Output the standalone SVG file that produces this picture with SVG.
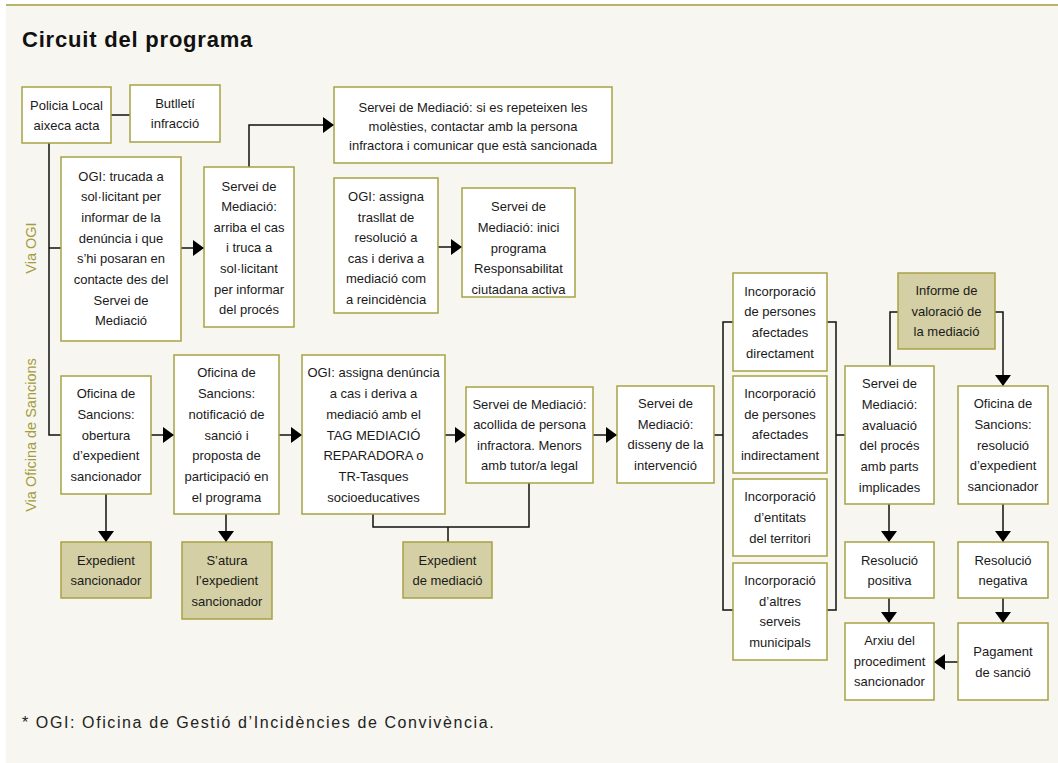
<svg xmlns="http://www.w3.org/2000/svg" width="1058" height="763" viewBox="0 0 1058 763">
<defs>
<style>
.bx{fill:#ffffff;stroke:#a9a243;stroke-width:1.5}
.dk{fill:#d4cfa5;stroke:#a9a243;stroke-width:1.5}
.t{font-family:"Liberation Sans",Arial,sans-serif;font-size:13px;fill:#1a1a1a;text-anchor:middle}
.c{fill:none;stroke:#111;stroke-width:1.5}
.lab{font-family:"Liberation Sans",Arial,sans-serif;font-size:14.5px;fill:#a39d3c;text-anchor:middle}
</style>
<marker id="ah" viewBox="0 0 11 16" refX="11" refY="8" markerWidth="11" markerHeight="16" markerUnits="userSpaceOnUse" orient="auto">
<path d="M0,0 L11,8 L0,16 z" fill="#000"/>
</marker>
</defs>
<rect x="0" y="0" width="1058" height="763" fill="#ffffff"/>
<rect x="6" y="5" width="1052" height="758" fill="#f7f6f0"/>
<line x1="6" y1="5" x2="1058" y2="5" stroke="#a39d3c" stroke-width="1.5"/>
<text x="22" y="47" font-family="Liberation Sans,Arial,sans-serif" font-size="22" font-weight="bold" letter-spacing="0.8" fill="#111">Circuit del programa</text>
<text class="lab" transform="translate(36,248) rotate(-90)">Via OGI</text>
<text class="lab" transform="translate(36,435) rotate(-90)">Via Oficina de Sancions</text>

<g id="connectors">
<path class="c" d="M111,115 H130"/>
<path class="c" d="M49,143 V435 H61 M49,248 H61"/>
<path class="c" d="M181,248 H204" marker-end="url(#ah)"/>
<path class="c" d="M249,167 V125 H334" marker-end="url(#ah)"/>
<path class="c" d="M438,247 H462" marker-end="url(#ah)"/>
<path class="c" d="M151,435 H174" marker-end="url(#ah)"/>
<path class="c" d="M106,494 V542" marker-end="url(#ah)"/>
<path class="c" d="M226,514 V542" marker-end="url(#ah)"/>
<path class="c" d="M279,435 H302" marker-end="url(#ah)"/>
<path class="c" d="M445,435 H466" marker-end="url(#ah)"/>
<path class="c" d="M373,514 V527 H529 V483 M448,527 V542"/>
<path class="c" d="M593,435 H617" marker-end="url(#ah)"/>
<path class="c" d="M714,435 H723 M733,322 H723 V610 H733 M827,322 H836 V610 H827 M836,435 H845"/>
<path class="c" d="M890,366 V312 H898"/>
<path class="c" d="M995,312 H1003 V386" marker-end="url(#ah)"/>
<path class="c" d="M889,504 V542" marker-end="url(#ah)"/>
<path class="c" d="M1003,504 V542" marker-end="url(#ah)"/>
<path class="c" d="M889,598 V623" marker-end="url(#ah)"/>
<path class="c" d="M1003,598 V623" marker-end="url(#ah)"/>
<path class="c" d="M958,662 H934" marker-end="url(#ah)"/>
</g>

<g id="n1"><rect class="bx" x="22" y="87" width="89" height="56"/>
<text class="t" x="66.5" y="109.5">Policia Local</text><text class="t" x="66.5" y="129.5">aixeca acta</text></g>

<g id="n2"><rect class="bx" x="130" y="85" width="90" height="57"/>
<text class="t" x="175" y="108">Butlletí</text><text class="t" x="175" y="128">infracció</text></g>

<g id="n3"><rect class="bx" x="61" y="157" width="120" height="184"/>
<text class="t" x="121" y="180.5">OGI: trucada a</text>
<text class="t" x="121" y="201.2">sol·licitant per</text>
<text class="t" x="121" y="221.9">informar de la</text>
<text class="t" x="121" y="242.6">denúncia i que</text>
<text class="t" x="121" y="263.3">s’hi posaran en</text>
<text class="t" x="121" y="284">contacte des del</text>
<text class="t" x="121" y="304.7">Servei de</text>
<text class="t" x="121" y="325.4">Mediació</text></g>

<g id="n4"><rect class="bx" x="204" y="167" width="90" height="160"/>
<text class="t" x="249" y="190.5">Servei de</text>
<text class="t" x="249" y="211.1">Mediació:</text>
<text class="t" x="249" y="231.7">arriba el cas</text>
<text class="t" x="249" y="252.3">i truca a</text>
<text class="t" x="249" y="272.9">sol·licitant</text>
<text class="t" x="249" y="293.5">per informar</text>
<text class="t" x="249" y="314.1">del procés</text></g>

<g id="n5"><rect class="bx" x="334" y="87" width="278" height="76"/>
<text class="t" x="473" y="111.5">Servei de Mediació: si es repeteixen les</text>
<text class="t" x="473" y="130.5">molèsties, contactar amb la persona</text>
<text class="t" x="473" y="149.5">infractora i comunicar que està sancionada</text></g>

<g id="n6"><rect class="bx" x="334" y="178" width="104" height="135"/>
<text class="t" x="386" y="201.3">OGI: assigna</text>
<text class="t" x="386" y="221.8">trasllat de</text>
<text class="t" x="386" y="242.3">resolució a</text>
<text class="t" x="386" y="262.8">cas i deriva a</text>
<text class="t" x="386" y="283.3">mediació com</text>
<text class="t" x="386" y="303.8">a reincidència</text></g>

<g id="n7"><rect class="bx" x="462" y="188" width="113" height="109"/>
<text class="t" x="518.5" y="211">Servei de</text>
<text class="t" x="518.5" y="231.8">Mediació: inici</text>
<text class="t" x="518.5" y="252.6">programa</text>
<text class="t" x="518.5" y="273.4">Responsabilitat</text>
<text class="t" x="518.5" y="294.2">ciutadana activa</text></g>

<g id="n8"><rect class="bx" x="61" y="376" width="90" height="118"/>
<text class="t" x="106" y="397.9">Oficina de</text>
<text class="t" x="106" y="418.7">Sancions:</text>
<text class="t" x="106" y="439.5">obertura</text>
<text class="t" x="106" y="460.3">d’expedient</text>
<text class="t" x="106" y="481.1">sancionador</text></g>

<g id="n9"><rect class="bx" x="174" y="355" width="105" height="159"/>
<text class="t" x="226.5" y="377.4">Oficina de</text>
<text class="t" x="226.5" y="398.1">Sancions:</text>
<text class="t" x="226.5" y="418.8">notificació de</text>
<text class="t" x="226.5" y="439.5">sanció i</text>
<text class="t" x="226.5" y="460.2">proposta de</text>
<text class="t" x="226.5" y="480.9">participació en</text>
<text class="t" x="226.5" y="501.6">el programa</text></g>

<g id="n10"><rect class="dk" x="61" y="542" width="90" height="56"/>
<text class="t" x="106" y="564.5">Expedient</text><text class="t" x="106" y="584.5">sancionador</text></g>

<g id="n11"><rect class="dk" x="182" y="542" width="90" height="77"/>
<text class="t" x="227" y="564.5">S’atura</text><text class="t" x="227" y="585">l’expedient</text><text class="t" x="227" y="605.5">sancionador</text></g>

<g id="n12"><rect class="bx" x="302" y="355" width="143" height="159"/>
<text class="t" x="373.5" y="377.4">OGI: assigna denúncia</text>
<text class="t" x="373.5" y="398.1">a cas i deriva a</text>
<text class="t" x="373.5" y="418.8">mediació amb el</text>
<text class="t" x="373.5" y="439.5">TAG MEDIACIÓ</text>
<text class="t" x="373.5" y="460.2">REPARADORA o</text>
<text class="t" x="373.5" y="480.9">TR-Tasques</text>
<text class="t" x="373.5" y="501.6">socioeducatives</text></g>

<g id="n13"><rect class="bx" x="466" y="387" width="127" height="96"/>
<text class="t" x="529.5" y="408.5">Servei de Mediació:</text>
<text class="t" x="529.5" y="429">acollida de persona</text>
<text class="t" x="529.5" y="449.5">infractora. Menors</text>
<text class="t" x="529.5" y="470">amb tutor/a legal</text></g>

<g id="n14"><rect class="dk" x="403" y="542" width="89" height="56"/>
<text class="t" x="447.5" y="564.5">Expedient</text><text class="t" x="447.5" y="584.5">de mediació</text></g>

<g id="n15"><rect class="bx" x="617" y="386" width="97" height="97"/>
<text class="t" x="665.5" y="408">Servei de</text>
<text class="t" x="665.5" y="428.7">Mediació:</text>
<text class="t" x="665.5" y="449.4">disseny de la</text>
<text class="t" x="665.5" y="470.1">intervenció</text></g>

<g id="n16"><rect class="bx" x="733" y="273" width="94" height="98"/>
<text class="t" x="780" y="295.5">Incorporació</text>
<text class="t" x="780" y="316.2">de persones</text>
<text class="t" x="780" y="336.9">afectades</text>
<text class="t" x="780" y="357.6">directament</text></g>

<g id="n17"><rect class="bx" x="733" y="376" width="94" height="97"/>
<text class="t" x="780" y="398">Incorporació</text>
<text class="t" x="780" y="418.7">de persones</text>
<text class="t" x="780" y="439.4">afectades</text>
<text class="t" x="780" y="460.1">indirectament</text></g>

<g id="n18"><rect class="bx" x="733" y="479" width="94" height="77"/>
<text class="t" x="780" y="501.4">Incorporació</text>
<text class="t" x="780" y="522.1">d’entitats</text>
<text class="t" x="780" y="542.8">del territori</text></g>

<g id="n19"><rect class="bx" x="733" y="563" width="94" height="97"/>
<text class="t" x="780" y="585">Incorporació</text>
<text class="t" x="780" y="605.7">d’altres</text>
<text class="t" x="780" y="626.4">serveis</text>
<text class="t" x="780" y="647.1">municipals</text></g>

<g id="n20"><rect class="bx" x="845" y="366" width="89" height="138"/>
<text class="t" x="889.5" y="388.2">Servei de</text>
<text class="t" x="889.5" y="408.9">Mediació:</text>
<text class="t" x="889.5" y="429.6">avaluació</text>
<text class="t" x="889.5" y="450.3">del procés</text>
<text class="t" x="889.5" y="471">amb parts</text>
<text class="t" x="889.5" y="491.7">implicades</text></g>

<g id="n21"><rect class="dk" x="898" y="273" width="97" height="76"/>
<text class="t" x="946.5" y="295">Informe de</text>
<text class="t" x="946.5" y="315.7">valoració de</text>
<text class="t" x="946.5" y="336.4">la mediació</text></g>

<g id="n22"><rect class="bx" x="958" y="386" width="90" height="118"/>
<text class="t" x="1003" y="407.9">Oficina de</text>
<text class="t" x="1003" y="428.7">Sancions:</text>
<text class="t" x="1003" y="449.5">resolució</text>
<text class="t" x="1003" y="470.3">d’expedient</text>
<text class="t" x="1003" y="491.1">sancionador</text></g>

<g id="n23"><rect class="bx" x="845" y="542" width="89" height="56"/>
<text class="t" x="889.5" y="564.5">Resolució</text><text class="t" x="889.5" y="584.5">positiva</text></g>

<g id="n24"><rect class="bx" x="958" y="542" width="90" height="56"/>
<text class="t" x="1003" y="564.5">Resolució</text><text class="t" x="1003" y="584.5">negativa</text></g>

<g id="n25"><rect class="bx" x="845" y="623" width="89" height="77"/>
<text class="t" x="889.5" y="645">Arxiu del</text>
<text class="t" x="889.5" y="665.7">procediment</text>
<text class="t" x="889.5" y="686.4">sancionador</text></g>

<g id="n26"><rect class="bx" x="958" y="623" width="90" height="77"/>
<text class="t" x="1003" y="656">Pagament</text>
<text class="t" x="1003" y="676.5">de sanció</text></g>

<text x="22" y="728" font-family="Liberation Sans,Arial,sans-serif" font-size="16" letter-spacing="1.6" fill="#222">* OGI: Oficina de Gestió d’Incidències de Convivència.</text>
</svg>
